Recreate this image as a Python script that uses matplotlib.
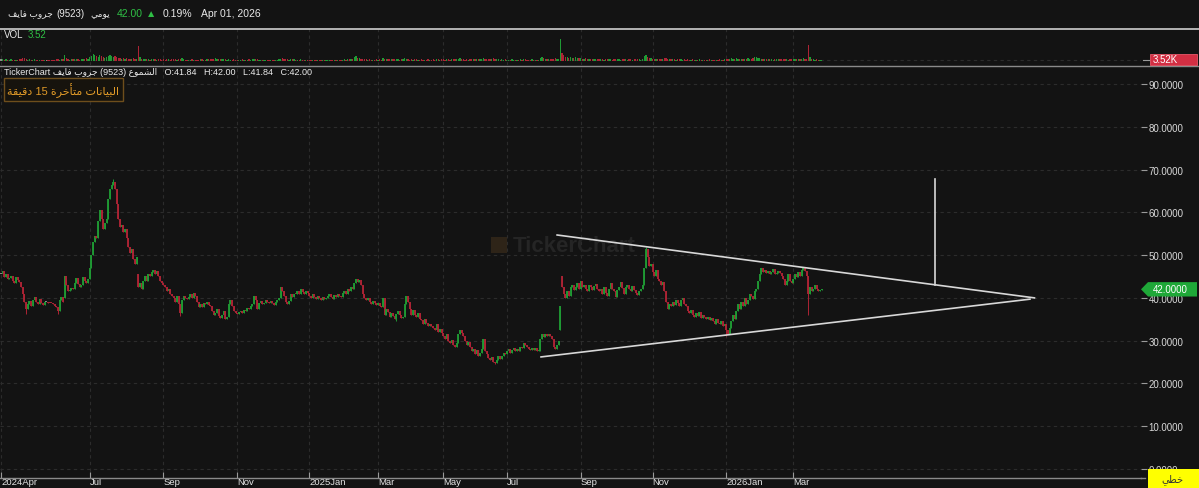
import numpy as np
import pandas as pd
import matplotlib
matplotlib.use('Agg')
import matplotlib.pyplot as plt
from matplotlib.patches import Polygon, Rectangle
from matplotlib.lines import Line2D
from matplotlib.transforms import blended_transform_factory

plt.rcParams['font.family'] = ['Liberation Sans', 'DejaVu Sans']

# ---- data: daily closes per session (9523, daily candles) ----
closes_2024_apr_jun = [45.5, 46.2, 44.8, 45.6, 44.5, 44.6, 45.2, 44.0, 43.5, 44.8, 44.2, 43.8,
                       42.5, 41.0, 39.0, 37.5, 38.5, 39.2, 38.0, 39.5, 40.3, 39.0, 38.6, 39.8, 38.9, 38.4,
                       39.0, 39.0, 38.9, 38.8, 38.7, 38.5, 38.2, 37.8, 37.0, 39.5, 40.2, 39.0,
                       45.0, 43.0, 41.5, 41.8, 42.3, 42.0, 43.5, 44.6, 43.2, 42.6, 43.0, 44.8, 44.0, 43.4, 44.5]
closes_2024_jul_aug = [47.0, 50.0, 53.0, 54.5, 54.0, 58.0, 60.5, 58.5, 56.0, 57.5, 58.5,
                       63.0, 65.5, 66.5, 67.2, 65.5, 62.0, 58.5, 56.5, 57.0, 55.5, 56.0, 54.0,
                       52.0, 50.5, 51.5, 49.0, 48.0, 49.5, 42.5, 43.5, 42.0, 44.0, 45.0, 44.0, 45.5,
                       45.0, 46.0, 46.5, 45.5, 46.3, 45.0, 44.0, 43.5]
closes_2024_sep_oct = [43.0, 42.5, 41.5, 42.0, 41.0, 40.5, 40.0, 39.0, 40.5, 38.5, 36.5, 39.5,
                       40.5, 40.0, 39.8, 40.2, 40.8, 40.0, 41.2, 40.5, 39.0, 37.8, 38.5, 37.8, 38.8, 38.6,
                       39.0, 38.4, 38.0, 37.0, 36.0, 36.5, 37.5, 35.8, 35.2, 36.0, 37.0, 35.0, 35.5,
                       38.5, 39.5, 38.0, 37.0, 36.5]
closes_2024_nov_dec = [36.2, 36.8, 37.0, 36.5, 37.2, 37.0, 37.6, 37.3, 38.0, 38.5, 40.5, 39.5, 37.5,
                       38.8, 39.2, 38.5, 38.9, 39.6, 39.0, 38.7, 39.3, 38.9, 38.4, 39.0,
                       39.5, 40.0, 42.5, 41.5, 40.5, 39.0, 38.5, 39.3, 41.0, 40.2, 41.0,
                       40.8, 41.5, 41.0, 42.0, 41.3, 40.8, 41.5, 41.2]
closes_2025_jan_feb = [40.5, 40.0, 40.8, 40.2, 39.8, 40.5, 40.0, 39.6, 40.3, 39.7, 40.0, 40.4, 40.9,
                       40.2, 39.8, 40.6, 40.3, 41.0, 40.5, 40.1, 41.2, 41.5, 40.8, 42.0, 41.6, 42.5, 42.0,
                       43.5, 44.5, 43.8, 44.2, 43.0, 41.0, 40.0, 39.5, 40.0, 39.0, 38.5, 39.2, 38.7, 38.3]
closes_2025_mar_apr = [38.8, 38.2, 37.8, 40.0, 36.0, 37.5, 36.8, 35.5, 36.5, 35.8, 35.0, 36.2, 37.0,
                       36.0, 35.3, 35.6, 38.5, 40.5, 39.0, 37.5, 36.0, 37.2, 36.0, 35.5, 36.5, 35.0,
                       34.8, 34.0, 35.0, 34.2, 33.5, 34.0, 33.5, 33.0, 32.5, 34.0, 32.0, 32.8, 31.8]
closes_2025_may_jun = [31.0, 30.5, 31.5, 30.0, 29.5, 30.2, 29.0, 28.5, 29.5, 31.5, 32.5, 31.8, 31.0,
                       30.0, 29.0, 29.8, 28.5, 27.5, 28.0, 27.0, 27.8, 26.5, 27.2, 28.0, 30.5, 27.5, 26.8,
                       26.0, 25.5, 26.2, 25.0, 24.8, 25.5, 26.3, 25.8, 26.5, 27.2, 26.8]
closes_2025_jul_aug = [27.5, 28.0, 27.2, 27.8, 28.3, 27.6, 28.0, 27.5, 28.5, 28.2, 29.5, 29.0, 28.6,
                       28.0, 27.8, 28.4, 27.9, 28.2, 27.5, 27.8, 30.5, 31.5, 30.8, 31.5, 31.0, 31.5,
                       31.0, 30.5, 28.5, 28.0, 29.0, 30.0, 38.0, 42.5, 41.0, 40.0,
                       41.5, 40.5, 42.5, 43.0, 41.8, 42.5, 43.5, 42.0]
closes_2025_sep_oct = [44.0, 42.5, 43.0, 42.0, 41.5, 43.0, 42.5, 41.8, 42.8, 43.2, 42.0, 41.5,
                       42.0, 41.0, 42.5, 41.2, 40.5, 42.0, 43.5, 42.0, 41.5, 40.2, 41.8, 42.6, 43.8,
                       42.2, 41.0, 42.5, 43.0, 42.0, 41.5, 42.8, 41.8, 41.2, 40.6, 41.5, 42.0, 43.0,
                       47.0, 51.5, 49.5, 47.5, 48.0]
closes_2025_nov_dec = [46.0, 45.0, 46.5, 44.5, 44.0, 43.0, 43.8, 41.5, 39.0, 37.5, 38.5,
                       38.0, 39.0, 38.3, 39.5, 38.8, 38.0, 39.5, 40.0, 38.6, 38.2,
                       37.0, 36.5, 37.2, 36.0, 35.5, 36.4, 35.8, 36.8, 35.2, 36.0, 35.5, 35.0,
                       35.5, 34.8, 35.2, 34.5, 34.0, 35.0, 34.2, 33.8, 34.5, 33.5, 34.0]
closes_2026_jan_feb = [32.5, 31.5, 33.0, 34.5, 36.0, 35.0, 37.0, 38.5, 37.5,
                       39.0, 38.0, 40.0, 38.5, 39.5, 41.0, 40.5, 39.8, 41.5, 42.0, 44.0, 45.5, 47.0, 46.0,
                       46.5, 45.8, 46.2, 45.5, 46.0, 46.8, 45.6, 45.9, 46.3, 45.8,
                       45.0, 44.5, 43.0, 44.0, 45.5, 44.0, 43.5]
closes_2026_mar = [44.5, 45.5, 44.8, 46.0, 45.2, 46.5, 47.0, 46.2, 45.0, 41.0,
                   42.5, 41.5, 42.0, 43.0, 42.0, 41.6, 41.8, 42.0]

# sessions that opened with a gap, and visible wick extremes (bar number -> price)
gap_opens = {38: 40.0, 82: 45.5, 322: 27.5, 334: 32.5, 335: 45.0, 384: 43.0, 490: 41.84}
wick_lows = {15: 36.2, 34: 36.2, 107: 35.8, 236: 34.6, 295: 24.5, 433: 31.0, 482: 36.0}
wick_highs = {67: 67.8, 385: 52.0, 480: 47.3, 490: 42.0}

# volume in thousands of shares
volumes_k = [8, 6, 5, 7, 4, 5, 6, 4, 3, 5, 4, 6, 9, 12, 10, 7, 5, 6, 4, 5, 6, 4, 3, 5, 4, 3, 2, 2, 3, 2,
             2, 3, 4, 9, 6, 5, 7, 8, 24, 10, 6, 5, 7, 6, 8, 9, 6, 5, 7, 6, 8, 10, 9,
             14, 20, 26, 22, 18, 15, 24, 18, 14, 12, 16, 20, 22, 18, 15, 20, 16, 12, 10, 9,
             11, 8, 10, 9, 7, 8, 10, 9, 7, 56, 14, 9, 8, 7, 6, 7, 5, 8, 9, 6, 5, 6, 7, 5,
             6, 5, 7, 6, 5, 8, 7, 6, 5, 7, 9, 10, 6, 5, 4, 5, 4, 6, 5, 4, 3, 5, 6, 7, 5, 4,
             6, 8, 9, 7, 6, 10, 8, 7, 6, 9, 8, 7, 5, 6, 5, 4, 6, 5,
             5, 4, 5, 6, 4, 5, 4, 6, 5, 7, 9, 8, 6, 5, 4, 5, 4, 3, 5, 4, 4, 3, 4, 5, 4, 6,
             8, 12, 9, 7, 6, 5, 6, 8, 6, 5, 4, 5, 6, 5, 4, 5, 4,
             4, 3, 4, 5, 3, 4, 3, 4, 5, 3, 4, 3, 4, 5, 4, 3, 4, 5, 4, 3, 5, 6, 5, 7, 6, 8,
             7, 14, 18, 12, 10, 8, 9, 7, 6, 5, 6, 5, 4, 5, 6,
             5, 6, 5, 12, 8, 7, 6, 7, 6, 8, 9, 7, 6, 5, 6, 7, 10, 8, 6, 5, 6, 5, 7, 6, 5, 4,
             6, 5, 4, 5, 6, 5, 4, 6, 5, 7, 6, 5, 6,
             6, 5, 7, 6, 5, 6, 7, 8, 6, 9, 10, 7, 6, 5, 6, 5, 7, 6, 8, 7, 6, 9, 7, 6, 12, 7,
             6, 8, 7, 9, 10, 8, 7, 6, 5, 6, 5, 6,
             5, 4, 5, 6, 4, 5, 4, 5, 6, 5, 7, 6, 5, 4, 5, 6, 5, 4, 5, 4, 12, 16, 10, 9, 8, 7,
             9, 8, 7, 10, 6, 8, 84, 30, 22, 16, 14, 12, 15, 12, 10, 14, 12, 10,
             10, 9, 8, 10, 7, 8, 9, 7, 8, 6, 7, 8, 6, 7, 5, 6, 8, 7, 6, 5, 7, 6, 8, 7, 5, 6,
             7, 6, 5, 6, 7, 5, 6, 7, 8, 6, 5, 7, 18, 24, 16, 12, 10,
             9, 8, 7, 8, 6, 7, 9, 12, 10, 8, 7, 6, 7, 6, 5, 6, 7, 6, 5, 6, 5, 6, 5, 4, 6, 5,
             4, 5, 6, 5, 4, 5, 4, 5, 6, 5, 4, 5, 4, 5, 6, 4, 5, 6,
             7, 8, 9, 10, 8, 9, 11, 8, 7, 8, 9, 7, 8, 10, 9, 8, 12, 14, 16, 12, 10, 8, 7, 8,
             7, 6, 7, 6, 5, 6, 7, 6, 8, 7, 6, 7, 6, 5, 6, 7,
             7, 8, 6, 9, 7, 8, 10, 9, 8, 60, 14, 8, 6, 5, 6, 4, 5, 3.52]

# Tadawul trading calendar (Sun-Thu) with the Eid / national-day closures
market_holidays = ['2024-04-04', '2024-04-07', '2024-04-08', '2024-04-09', '2024-04-10', '2024-04-11',
                   '2024-06-13', '2024-06-16', '2024-06-17', '2024-06-18', '2024-06-19', '2024-06-20',
                   '2024-09-23', '2025-02-23',
                   '2025-03-30', '2025-03-31', '2025-04-01', '2025-04-02', '2025-04-03',
                   '2025-06-05', '2025-06-08', '2025-06-09', '2025-06-10', '2025-06-11',
                   '2025-09-23', '2026-02-22',
                   '2026-03-19', '2026-03-22', '2026-03-23', '2026-03-24', '2026-03-25', '2026-03-26']

tick_months = ['2024-04', '2024-07', '2024-09', '2024-11', '2025-01', '2025-03',
               '2025-05', '2025-07', '2025-09', '2025-11', '2026-01', '2026-03']
tick_labels = ['2024Apr', 'Jul', 'Sep', 'Nov', '2025Jan', 'Mar', 'May', 'Jul', 'Sep', 'Nov', '2026Jan', 'Mar']
price_levels = [0, 10, 20, 30, 40, 50, 60, 70, 80, 90]

# hand drawn objects on the chart (bar number, price)
upper_trend = [(332, 54.7), (617, 40.0)]
lower_trend = [(322.4, 26.2), (614.3, 39.7)]
vertical_mark = [(557.6, 67.8), (557.6, 43.0)]

# Arabic strings, already shaped in visual (left-to-right) order
name_ar = '\uFED2\uFEF3\uFE8E\uFED3 \uFE8F\uFEED\uFEAE\uFE9F'            # جروب فايف
daily_ar = '\uFEF2\uFEE3\uFEEE\uFEF3'                                      # يومي
candles_ar = '\uFEC9\uFEEE\uFEE4\uFEB8\uFEDF\uFE8D'                        # الشموع
delay_ar = ('\uFE94\uFED8\uFEF4\uFED7\uFEA9 15 \uFE93\uFEAE\uFEA7\uFE84\uFE98\uFEE3 '
            '\uFE95\uFE8E\uFEE7\uFE8E\uFEF4\uFE92\uFEDF\uFE8D')            # البيانات متأخرة 15 دقيقة
linear_ar = '\uFEF2\uFEC4\uFEA7'                                           # خطي

# ---- build OHLC ----
closes = np.array(closes_2024_apr_jun + closes_2024_jul_aug + closes_2024_sep_oct + closes_2024_nov_dec
                  + closes_2025_jan_feb + closes_2025_mar_apr + closes_2025_may_jun + closes_2025_jul_aug
                  + closes_2025_sep_oct + closes_2025_nov_dec + closes_2026_jan_feb + closes_2026_mar)
n = len(closes)
dates = pd.bdate_range('2024-04-01', periods=n, freq='C', weekmask='Sun Mon Tue Wed Thu',
                       holidays=market_holidays)
opens = np.r_[closes[0], closes[:-1]]
for i, v in gap_opens.items():
    opens[i] = v
highs = np.maximum(opens, closes)
lows = np.minimum(opens, closes)
for i, v in wick_highs.items():
    highs[i] = v
for i, v in wick_lows.items():
    lows[i] = v
volumes = np.array(volumes_k[:n])

GREEN = '#1f9a34'
RED = '#ad2435'
GREY = '#8c8c8c'
BG = '#131313'
GRID = '#2c2c2c'
colors = np.where(closes > opens + 0.01, GREEN, np.where(closes < opens - 0.01, RED, GREY))

W, H = 1199, 489
fig = plt.figure(figsize=(W / 100, H / 100), dpi=100, facecolor=BG)


def fx(px):
    return px / W


def fy(py):
    return 1 - py / H


x = np.arange(n)
xmin, xmax = -0.6, 680.6
tick_pos = [int(np.argmax(dates >= pd.Timestamp(m + '-01'))) for m in tick_months]

# ---- volume pane ----
ax_v = fig.add_axes([0, fy(66), fx(1141), (66 - 30) / H])
ax_v.set_facecolor(BG)
ax_v.bar(x, volumes, width=0.75, color=colors, linewidth=0)
ax_v.set_xlim(xmin, xmax)
ax_v.set_ylim(-16, 124)
for t in tick_pos:
    ax_v.axvline(t, color=GRID, lw=0.8, ls=(0, (3, 3)), zorder=0)
ax_v.axhline(volumes[-1], color=GRID, lw=0.8, ls=(0, (3, 3)), zorder=0)
ax_v.set_xticks([])
ax_v.set_yticks([])
for s in ax_v.spines.values():
    s.set_visible(False)

# ---- price pane ----
ax = fig.add_axes([0, fy(479), fx(1141), (479 - 67) / H])
ax.set_facecolor(BG)
ax.set_xlim(xmin, xmax)
ax.set_ylim(-2.1, 94.2)
for t in tick_pos:
    ax.axvline(t, color=GRID, lw=0.8, ls=(0, (3, 3)), zorder=0)
for lv in price_levels:
    ax.axhline(lv, color=GRID, lw=0.8, ls=(0, (3, 3)), zorder=0)

ax.vlines(x, lows, highs, colors=colors, linewidth=0.7, zorder=3)
body_lo = np.minimum(opens, closes)
body_hi = np.maximum(np.maximum(opens, closes), body_lo + 0.25)
ax.vlines(x, body_lo, body_hi, colors=colors, linewidth=1.35, zorder=3)

# trend lines drawn by the user
ax.plot(*zip(*upper_trend), color='#d8d8d8', lw=1.2, zorder=4)
ax.plot(*zip(*lower_trend), color='#d8d8d8', lw=1.2, zorder=4)
ax.plot(*zip(*vertical_mark), color='#d8d8d8', lw=1.2, zorder=4)

# watermark
ax.text(0.449, 0.565, 'TickerChart', transform=ax.transAxes, fontsize=16, fontweight='bold',
        color='#252525', ha='left', va='center', zorder=1)
ax.add_patch(Rectangle((0.430, 0.545), 0.014, 0.040, transform=ax.transAxes,
                       facecolor='#2e2418', edgecolor='none', zorder=1))

ax.set_xticks(tick_pos)
ax.set_xticklabels(tick_labels, fontsize=6.8, color='#e6e6e6', ha='left')
ax.tick_params(axis='x', direction='in', length=4, width=0.8, color='#9a9a9a', pad=-0.5)
ax.yaxis.tick_right()
ax.set_yticks(price_levels)
ax.set_yticklabels([f'{v:.4f}' for v in price_levels], fontsize=7, color='#d9d9d9')
ax.tick_params(axis='y', direction='out', length=4.5, width=0.8, color='#9a9a9a', pad=1)
for lbl in ax.get_xticklabels():
    lbl.set_horizontalalignment('left')
for name, s in ax.spines.items():
    s.set_visible(name == 'bottom')
ax.spines['bottom'].set_color('#8a8a8a')
ax.spines['bottom'].set_linewidth(1.0)
fig.add_artist(Line2D([fx(1141), fx(1145)], [fy(479), fy(479)], color='#8a8a8a', lw=1.0))

# ---- separators ----
fig.add_artist(Line2D([0, 1], [fy(29.5), fy(29.5)], color='#cfcfcf', lw=1.2))
fig.add_artist(Line2D([0, 1], [fy(66.5), fy(66.5)], color='#8a8a8a', lw=1.0))

# ---- header ----
hy = fy(14)
fig.text(fx(8), hy, name_ar, fontsize=6.5, color='#e8e8e8', va='center')
fig.text(fx(56), hy, '(9523)', fontsize=7, color='#e8e8e8', va='center')
fig.text(fx(90), hy, daily_ar, fontsize=6.5, color='#e8e8e8', va='center')
fig.text(fx(117), hy, f'{closes[-1]:.2f}', fontsize=7.5, color='#2fbf45', va='center')
fig.text(fx(146), hy, '\u25B2', fontsize=7.5, color='#2fbf45', va='center')
fig.text(fx(163), hy, '0.19%', fontsize=7.5, color='#e8e8e8', va='center')
fig.text(fx(201), hy, dates[-1].strftime('%b %d, %Y'), fontsize=7.5, color='#e8e8e8', va='center')

fig.text(fx(4), fy(35.5), 'VOL', fontsize=7, color='#e8e8e8', va='center')
fig.text(fx(28), fy(35.5), f'{volumes[-1]:.2f}', fontsize=7, color='#2fbf45', va='center')

fig.text(fx(4), fy(72.5), f'TickerChart {name_ar} (9523) {candles_ar}   '
         f'O:{opens[-1]:.2f}   H:{highs[-1]:.2f}   L:{lows[-1]:.2f}   C:{closes[-1]:.2f}',
         fontsize=6.5, color='#ececec', va='center')
fig.text(fx(63.5), fy(90.5), delay_ar, fontsize=8, color='#e09a28', va='center', ha='center',
         bbox=dict(boxstyle='square,pad=0.35', facecolor='#16130d', edgecolor='#6e4e1c', lw=1.0))

# ---- last price / last volume labels on the right scale ----
tr_p = blended_transform_factory(fig.transFigure, ax.transData)
h_p = 7.2 / 4.278
lc = closes[-1]
fig.add_artist(Polygon([(fx(1141), lc), (fx(1148), lc + h_p), (fx(1197), lc + h_p),
                        (fx(1197), lc - h_p), (fx(1148), lc - h_p)], closed=True,
                       transform=tr_p, facecolor='#1fa838', edgecolor='none', zorder=5))
fig.text(fx(1153), lc, f'{lc:.4f}', transform=tr_p, fontsize=7, color='white', va='center', zorder=6)

tr_v = blended_transform_factory(fig.transFigure, ax_v.transData)
lv = volumes[-1]
fig.add_artist(Rectangle((fx(1150), lv - 20), fx(47), 45, transform=tr_v,
                         facecolor='#d32f43', edgecolor='#e8596a', lw=0.6, zorder=5))
fig.add_artist(Line2D([fx(1143), fx(1149)], [lv, lv], transform=tr_v, color='#9a9a9a', lw=0.8))
fig.text(fx(1153), lv + 2, f'{lv:.2f}K', transform=tr_v, fontsize=7, color='white', va='center', zorder=6)

# chart type box
fig.add_artist(Rectangle((fx(1148), fy(489)), fx(51), (489 - 470) / H, transform=fig.transFigure,
                         facecolor='#ffff00', edgecolor='none', zorder=5))
fig.text(fx(1172), fy(480), linear_ar, fontsize=7, color='#333333', ha='center', va='center', zorder=6)

fig.savefig('out.png', dpi=100, facecolor=BG)
